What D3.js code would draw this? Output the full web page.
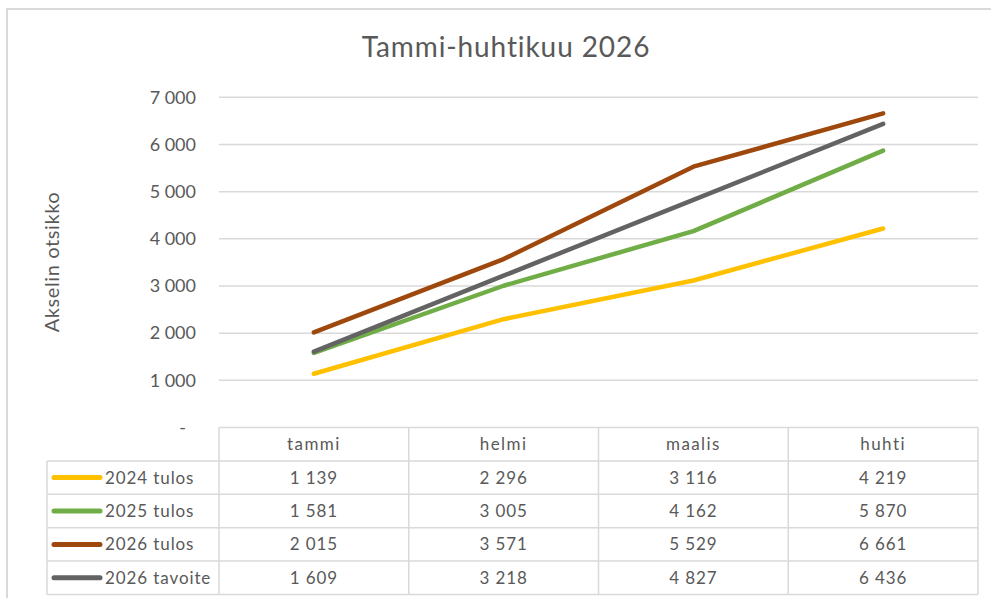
<!DOCTYPE html>
<html>
<head>
<meta charset="utf-8">
<script src="https://cdn.jsdelivr.net/npm/d3@7"></script>
<style>
  body { margin: 0; background: #fff; }
  text { font-family: Lato, "Open Sans", sans-serif; fill: #595959; }
</style>
</head>
<body>
<div id="chart"></div>
<script>
// Chart data
const months = ["tammi", "helmi", "maalis", "huhti"];
const seriesNames = ["2024 tulos", "2025 tulos", "2026 tulos", "2026 tavoite"];
const seriesColors = ["#FFC000", "#70AD47", "#9E480E", "#636363"];
const values2024 = [1139, 2296, 3116, 4219];
const values2025 = [1581, 3005, 4162, 5870];
const values2026 = [2015, 3571, 5529, 6661];
const valuesTarget = [1609, 3218, 4827, 6436];
const yTicks = [0, 1000, 2000, 3000, 4000, 5000, 6000, 7000];

const series = [values2024, values2025, values2026, valuesTarget].map((vals, i) => ({
    name: seriesNames[i],
    color: seriesColors[i],
    values: vals
}));

const width = 991, height = 598;
const plot = { left: 219, right: 978, top: 97.3, bottom: 427.5 };
const rowH = 33.4;
const legendLeft = 47;

const fi = d3.formatLocale({ decimal: ",", thousands: "\u00a0", grouping: [3], currency: ["", "€"] });
const fmt = fi.format(",d");

const svg = d3.select("#chart").append("svg")
    .attr("width", width)
    .attr("height", height);

// Chart frame
svg.append("path")
    .attr("d", `M7,${height} V9 H${width}`)
    .attr("fill", "none")
    .attr("stroke", "#d9d9d9")
    .attr("stroke-width", 2);

// Title
svg.append("text")
    .attr("x", 506)
    .attr("y", 57)
    .attr("text-anchor", "middle")
    .style("font-size", "28px")
    .style("letter-spacing", "0.9px")
    .text("Tammi-huhtikuu 2026");

// Scales
const xScale = d3.scaleBand()
    .domain(months)
    .range([plot.left, plot.right]);

const yScale = d3.scaleLinear()
    .domain([0, 7000])
    .range([plot.bottom, plot.top]);

// Gridlines
svg.append("g")
    .selectAll("line")
    .data(yTicks.filter(d => d > 0))
    .enter()
    .append("line")
    .attr("x1", plot.left)
    .attr("x2", plot.right)
    .attr("y1", d => yScale(d))
    .attr("y2", d => yScale(d))
    .attr("stroke", "#d9d9d9")
    .attr("stroke-width", 1.5);

// Y axis
const yAxis = d3.axisLeft(yScale)
    .tickValues(yTicks)
    .tickSize(0)
    .tickPadding(0)
    .tickFormat(d => d === 0 ? "-" : fmt(d));

const yG = svg.append("g")
    .attr("transform", `translate(196,0)`)
    .call(yAxis);
yG.select(".domain").remove();
yG.selectAll("text")
    .style("font-size", "18px")
    .attr("fill", "#595959")
    .style("font-family", "Lato, sans-serif");
// accounting-style zero dash sits further left
yG.selectAll("text").filter(d => d === 0).attr("dx", -10);

// Axis title
svg.append("text")
    .attr("transform", `translate(59,262) rotate(-90)`)
    .attr("text-anchor", "middle")
    .style("font-size", "20px")
    .style("letter-spacing", "0.6px")
    .text("Akselin otsikko");

// Lines
const line = d3.line()
    .x((d, i) => xScale(months[i]) + xScale.bandwidth() / 2)
    .y(d => yScale(d));

svg.append("g")
    .selectAll("path")
    .data(series)
    .enter()
    .append("path")
    .attr("d", d => line(d.values))
    .attr("fill", "none")
    .attr("stroke", d => d.color)
    .attr("stroke-width", 4.5)
    .attr("stroke-linecap", "round")
    .attr("stroke-linejoin", "round");

// Data table
const table = svg.append("g");
const tableBottom = plot.bottom + rowH * (series.length + 1);
const gridStroke = "#d9d9d9";

// horizontal rules
table.append("line")
    .attr("x1", plot.left).attr("x2", plot.right)
    .attr("y1", plot.bottom).attr("y2", plot.bottom)
    .attr("stroke", gridStroke).attr("stroke-width", 1.5);

d3.range(1, series.length + 2).forEach(r => {
    table.append("line")
        .attr("x1", legendLeft).attr("x2", plot.right)
        .attr("y1", plot.bottom + r * rowH).attr("y2", plot.bottom + r * rowH)
        .attr("stroke", gridStroke).attr("stroke-width", 1.5);
});

// vertical rules
table.append("line")
    .attr("x1", legendLeft).attr("x2", legendLeft)
    .attr("y1", plot.bottom + rowH).attr("y2", tableBottom)
    .attr("stroke", gridStroke).attr("stroke-width", 1.5);

months.forEach(m => {
    table.append("line")
        .attr("x1", xScale(m)).attr("x2", xScale(m))
        .attr("y1", plot.bottom).attr("y2", tableBottom)
        .attr("stroke", gridStroke).attr("stroke-width", 1.5);
});
table.append("line")
    .attr("x1", plot.right).attr("x2", plot.right)
    .attr("y1", plot.bottom).attr("y2", tableBottom)
    .attr("stroke", gridStroke).attr("stroke-width", 1.5);

// header
table.selectAll(".hdr")
    .data(months)
    .enter()
    .append("text")
    .attr("class", "hdr")
    .attr("x", d => xScale(d) + xScale.bandwidth() / 2)
    .attr("y", plot.bottom + rowH / 2)
    .attr("dy", "0.35em")
    .attr("text-anchor", "middle")
    .style("font-size", "17px")
    .style("letter-spacing", "1.4px")
    .text(d => d);

// rows
series.forEach((s, r) => {
    const cy = plot.bottom + rowH * (r + 1) + rowH / 2;
    table.append("line")
        .attr("x1", 54).attr("x2", 100)
        .attr("y1", cy).attr("y2", cy)
        .attr("stroke", s.color)
        .attr("stroke-width", 5)
        .attr("stroke-linecap", "round");
    table.append("text")
        .attr("x", 105)
        .attr("y", cy)
        .attr("dy", "0.35em")
        .style("font-size", "17px")
        .style("letter-spacing", "0.9px")
        .text(s.name);
    table.selectAll(null)
        .data(s.values)
        .enter()
        .append("text")
        .attr("x", (d, i) => xScale(months[i]) + xScale.bandwidth() / 2)
        .attr("y", cy)
        .attr("dy", "0.35em")
        .attr("text-anchor", "middle")
        .style("font-size", "17px")
        .style("letter-spacing", "0.9px")
        .text(d => fmt(d));
});
</script>
</body>
</html>
